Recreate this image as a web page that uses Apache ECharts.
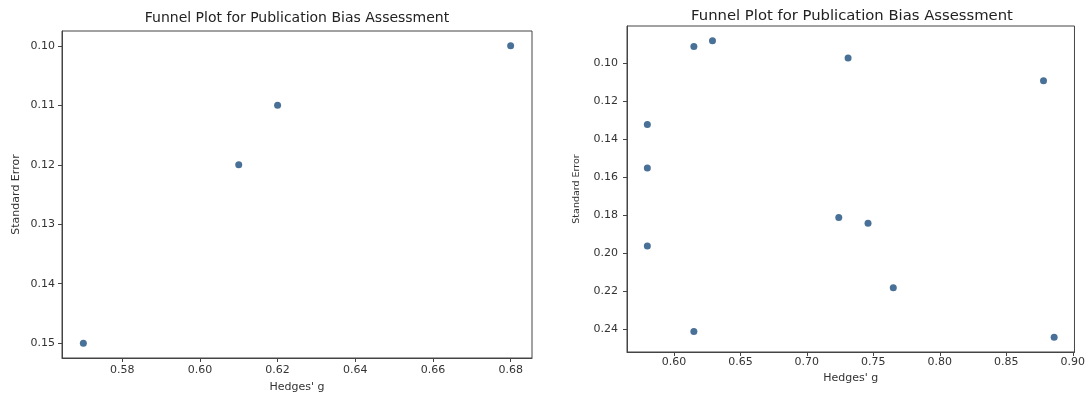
<!DOCTYPE html>
<html>
<head>
<meta charset="utf-8">
<script src="https://cdn.jsdelivr.net/npm/echarts@6/dist/echarts.min.js"></script>
<style>
html,body{margin:0;padding:0;background:#fff;}
#chart{width:1088px;height:398px;}
</style>
</head>
<body>
<div id="chart"></div>
<script>
// ---- data ----
const titleText = 'Funnel Plot for Publication Bias Assessment';
const xName = "Hedges' g";
const yName = 'Standard Error';

const leftHedgesG = [0.68, 0.62, 0.61, 0.57];
const leftStdErr  = [0.10, 0.11, 0.12, 0.15];

const rightHedgesG = [0.580, 0.580, 0.615, 0.629, 0.731, 0.878, 0.580, 0.615, 0.724, 0.746, 0.765, 0.886];
const rightStdErr  = [0.132, 0.155, 0.091, 0.088, 0.097, 0.109, 0.196, 0.241, 0.181, 0.184, 0.218, 0.244];

const leftXTicks  = [0.58, 0.60, 0.62, 0.64, 0.66, 0.68];
const leftYTicks  = [0.10, 0.11, 0.12, 0.13, 0.14, 0.15];
const rightXTicks = [0.60, 0.65, 0.70, 0.75, 0.80, 0.85, 0.90];
const rightYTicks = [0.10, 0.12, 0.14, 0.16, 0.18, 0.20, 0.22, 0.24];

// ---- helpers ----
function padExtent(arr) {
  const mn = Math.min(...arr), mx = Math.max(...arr);
  const m = (mx - mn) * 0.05;
  return [mn - m, mx + m];
}
function pairs(xs, ys) { return xs.map((x, i) => [x, ys[i]]); }

const FONT = 'DejaVu Sans';
const AX = '#444444';
const TXT = '#333333';

function xAxisCfg(gridIndex, ext, ticks, step, gap, labelMargin, size) {
  return {
    type: 'value', gridIndex, min: ext[0], max: ext[1],
    minInterval: step, maxInterval: step,
    name: xName, nameLocation: 'middle', nameGap: gap,
    nameTextStyle: { fontFamily: FONT, fontSize: size, color: TXT },
    axisLine: { show: true, onZero: false, lineStyle: { color: AX, width: 1 } },
    axisTick: { show: true, length: 4, lineStyle: { color: AX, width: 1 }, customValues: ticks },
    axisLabel: { fontFamily: FONT, fontSize: size, color: TXT, margin: labelMargin,
      customValues: ticks, formatter: v => v.toFixed(2) },
    splitLine: { show: false }
  };
}
function yAxisCfg(gridIndex, ext, ticks, step, gap, labelMargin, size, nameSize) {
  return {
    type: 'value', gridIndex, min: ext[0], max: ext[1], inverse: true,
    minInterval: step, maxInterval: step,
    name: yName, nameLocation: 'middle', nameGap: gap,
    nameTextStyle: { fontFamily: FONT, fontSize: nameSize, color: TXT },
    axisLine: { show: true, onZero: false, lineStyle: { color: AX, width: 1 } },
    axisTick: { show: true, length: 4, lineStyle: { color: AX, width: 1 }, customValues: ticks },
    axisLabel: { fontFamily: FONT, fontSize: size, color: TXT, margin: labelMargin,
      customValues: ticks, formatter: v => v.toFixed(2) },
    splitLine: { show: false }
  };
}

const chart = echarts.init(document.getElementById('chart'), null, { renderer: 'canvas' });

const grids = [
  { left: 62, top: 31, width: 470, height: 329 },
  { left: 627, top: 26, width: 450, height: 326 }
];

const option = {
  backgroundColor: '#ffffff',
  animation: false,
  grid: grids.map(g => Object.assign({ show: true, borderColor: AX, borderWidth: 1, backgroundColor: 'transparent' }, g)),
  xAxis: [
    xAxisCfg(0, padExtent(leftHedgesG), leftXTicks, 0.02, 24, 7, 11),
    xAxisCfg(1, padExtent(rightHedgesG), rightXTicks, 0.05, 17, 5, 11)
  ],
  yAxis: [
    yAxisCfg(0, padExtent(leftStdErr), leftYTicks, 0.01, 40, 7, 11, 11),
    yAxisCfg(1, padExtent(rightStdErr), rightYTicks, 0.02, 45, 9, 11, 9.5)
  ],
  graphic: [
    { type: 'text', x: grids[0].left + grids[0].width / 2, y: 18,
      style: { text: titleText, font: '14px "DejaVu Sans"', fill: '#222', textAlign: 'center', textVerticalAlign: 'middle' } },
    { type: 'text', x: grids[1].left + grids[1].width / 2, y: 16,
      style: { text: titleText, font: '14.8px "DejaVu Sans"', fill: '#222', textAlign: 'center', textVerticalAlign: 'middle' } }
  ],
  series: [
    { type: 'scatter', xAxisIndex: 0, yAxisIndex: 0, data: pairs(leftHedgesG, leftStdErr),
      symbolSize: 7, itemStyle: { color: '#1c4e7d' } },
    { type: 'scatter', xAxisIndex: 1, yAxisIndex: 1, data: pairs(rightHedgesG, rightStdErr),
      symbolSize: 7, itemStyle: { color: '#1c4e7d' } }
  ]
};
chart.setOption(option);
</script>
</body>
</html>
